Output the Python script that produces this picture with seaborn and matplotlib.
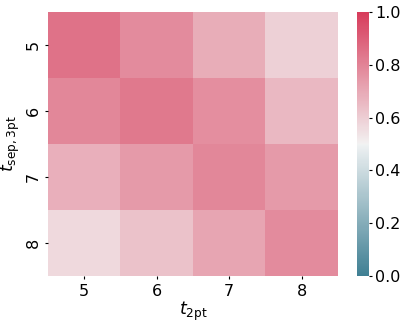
import numpy as np
import pandas as pd
import matplotlib
matplotlib.use('Agg')
import matplotlib.pyplot as plt
import seaborn as sns

t_2pt = [5, 6, 7, 8]
t_sep = [5, 6, 7, 8]
row_5 = [0.85, 0.78, 0.69, 0.59]
row_6 = [0.79, 0.83, 0.77, 0.66]
row_7 = [0.68, 0.74, 0.79, 0.74]
row_8 = [0.57, 0.63, 0.71, 0.78]

df = pd.DataFrame([row_5, row_6, row_7, row_8], index=t_sep, columns=t_2pt)

cmap = sns.diverging_palette(220, 5, as_cmap=True)

fig = plt.figure(figsize=(4.07, 3.25), dpi=100)
ax = fig.add_axes([0.118, 0.151, 0.712, 0.812])
cax = fig.add_axes([0.877, 0.151, 0.029, 0.812])
sns.heatmap(df, cmap=cmap, vmin=0, vmax=1, ax=ax, cbar_ax=cax)
ax.set_xlabel(r'$t_{\rm 2pt}$', fontsize=12.5)
ax.set_ylabel(r'$t_{\rm sep,3pt}$', fontsize=12.5)
ax.xaxis.set_label_coords(0.5, -0.09)
ax.yaxis.set_label_coords(-0.09, 0.5)
ax.tick_params(axis='both', labelsize=11.5, length=2.5, pad=3)
ax.set_yticklabels(ax.get_yticklabels(), rotation=90, va='center')
cbar = ax.collections[0].colorbar
cbar.ax.tick_params(labelsize=11.5, length=2.5, pad=2)
cbar.set_ticks([0, 0.2, 0.4, 0.6, 0.8, 1.0])
cbar.outline.set_visible(False)

plt.savefig('out.png', dpi=100)
